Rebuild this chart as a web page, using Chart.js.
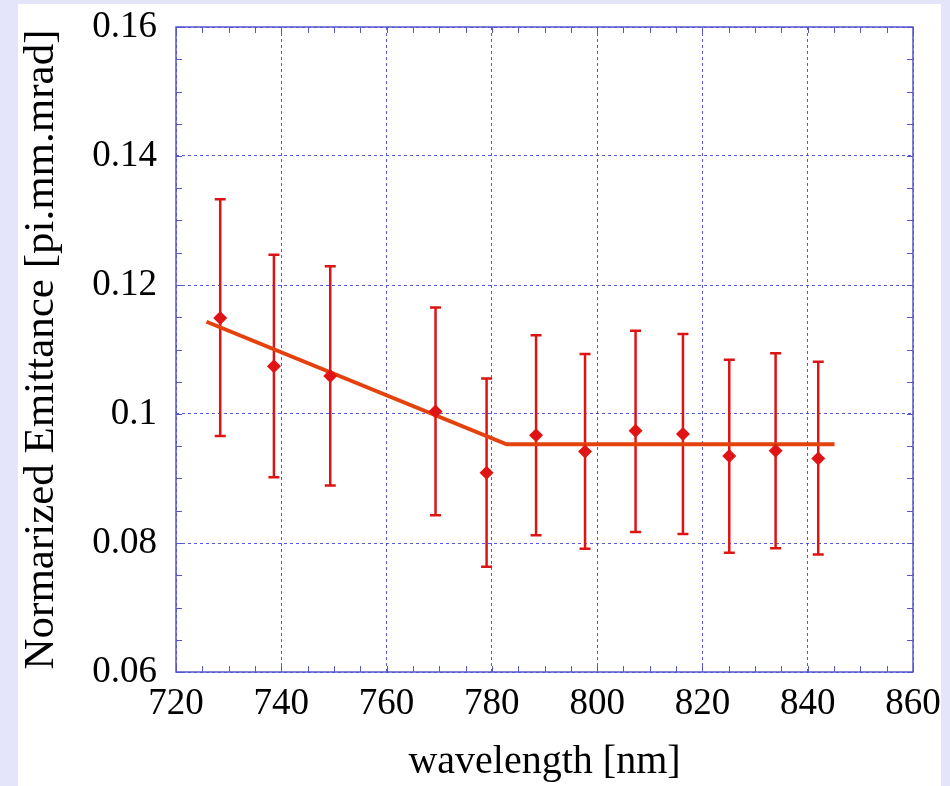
<!DOCTYPE html>
<html>
<head>
<meta charset="utf-8">
<script src="https://cdn.jsdelivr.net/npm/chart.js@4"></script>
<style>
  html, body { margin: 0; padding: 0; background: #e4e4fa; }
  #emittance { display: block; }
</style>
</head>
<body>
<canvas id="emittance" width="950" height="786"></canvas>
<script>
// measured points
var wavelength = [728.4, 738.6, 749.3, 769.3, 779.0, 788.4, 797.7, 807.3, 816.3, 825.1, 833.9, 842.0];
var emittance = [0.1149, 0.1074, 0.1059, 0.1004, 0.0909, 0.0967, 0.0942, 0.0974, 0.0969, 0.0935, 0.0943, 0.0931];
var errHigh = [0.1333, 0.1247, 0.1229, 0.1165, 0.1055, 0.1122, 0.1093, 0.1129, 0.1124, 0.1084, 0.1094, 0.1081];
var errLow = [0.0966, 0.0902, 0.0889, 0.0843, 0.0763, 0.0812, 0.0791, 0.0817, 0.0814, 0.0785, 0.0792, 0.0782];

// fitted line
var fitX = [725.8, 782.8, 845.1];
var fitY = [0.1143, 0.0953, 0.0953];

var xTicks = [720, 740, 760, 780, 800, 820, 840, 860];
var yTicks = [0.06, 0.08, 0.1, 0.12, 0.14, 0.16];

var serif = "'Liberation Serif', 'Times New Roman', serif";
var frameColor = '#5656c8';
var gridColor = 'rgba(70, 70, 225, 0.9)';

var framePlugin = {
  id: 'frame',
  beforeDraw: function (chart) {
    var c = chart.ctx;
    c.save();
    c.fillStyle = '#e4e4fa';
    c.fillRect(0, 0, chart.width, chart.height);
    c.fillStyle = '#ffffff';
    c.fillRect(18, 4, 923, chart.height - 4);
    c.restore();
  },
  beforeDatasetsDraw: function (chart) {
    var c = chart.ctx, xs = chart.scales.x, ys = chart.scales.y;
    c.save();
    c.strokeStyle = '#dd1414';
    c.lineWidth = 2.5;
    for (var i = 0; i < wavelength.length; i++) {
      var px = xs.getPixelForValue(wavelength[i]);
      var top = ys.getPixelForValue(errHigh[i]);
      var bot = ys.getPixelForValue(errLow[i]);
      c.beginPath();
      c.moveTo(px, top); c.lineTo(px, bot);
      c.moveTo(px - 5.5, top); c.lineTo(px + 5.5, top);
      c.moveTo(px - 5.5, bot); c.lineTo(px + 5.5, bot);
      c.stroke();
    }
    c.restore();
  },
  afterDraw: function (chart) {
    var c = chart.ctx, a = chart.chartArea, xs = chart.scales.x, ys = chart.scales.y;
    c.save();
    c.strokeStyle = frameColor;
    c.lineWidth = 1.5;
    c.strokeRect(a.left, a.top, a.right - a.left, a.bottom - a.top);
    c.lineWidth = 1;
    c.beginPath();
    // small inward ticks on all four sides
    for (var w = 720; w <= 860; w += 5) {
      var px = Math.round(xs.getPixelForValue(w)) + 0.5;
      c.moveTo(px, a.bottom); c.lineTo(px, a.bottom - 6);
      c.moveTo(px, a.top); c.lineTo(px, a.top + 6);
    }
    for (var k = 0; k <= 20; k++) {
      var py = Math.round(ys.getPixelForValue(0.06 + k * 0.005)) + 0.5;
      c.moveTo(a.left, py); c.lineTo(a.left + 6, py);
      c.moveTo(a.right, py); c.lineTo(a.right - 6, py);
    }
    c.stroke();
    c.restore();
  }
};

var ctx = document.getElementById('emittance');

var myChart = new Chart(ctx, {
  type: 'scatter',
  data: {
    datasets: [
      {
        label: 'measured',
        data: wavelength.map(function (w, i) { return { x: w, y: emittance[i] }; }),
        pointStyle: 'rectRot',
        pointRadius: 7,
        backgroundColor: '#e01414',
        borderColor: '#e01414',
        borderWidth: 0,
        showLine: false
      },
      {
        label: 'fit',
        data: fitX.map(function (w, i) { return { x: w, y: fitY[i] }; }),
        showLine: true,
        borderColor: '#e4420c',
        borderWidth: 4,
        pointRadius: 0,
        fill: false
      }
    ]
  },
  options: {
    responsive: false,
    animation: false,
    events: [],
    layout: { padding: { left: 0, top: 27, right: 37, bottom: 0 } },
    plugins: {
      legend: { display: false },
      tooltip: { enabled: false }
    },
    scales: {
      x: {
        type: 'linear',
        min: 720,
        max: 860,
        afterFit: function (s) {
          s.height = 114;
          s.paddingLeft = 0; s.paddingRight = 0;
        },
        afterBuildTicks: function (s) { s.ticks = xTicks.map(function (v) { return { value: v }; }); },
        ticks: {
          color: '#000',
          padding: 10,
          maxRotation: 0,
          font: { family: serif, size: 37 },
          callback: function (v) { return String(v); }
        },
        grid: { color: gridColor, lineWidth: 1, drawTicks: false },
        border: { display: false, dash: [3, 3] },
        title: {
          display: true,
          text: 'wavelength [nm]',
          color: '#000',
          font: { family: serif, size: 40, lineHeight: 1.2 },
          padding: { top: 0, bottom: 0 }
        }
      },
      y: {
        type: 'linear',
        min: 0.06,
        max: 0.16,
        afterFit: function (s) {
          s.width = 176;
          s.paddingTop = 0; s.paddingBottom = 0;
        },
        afterBuildTicks: function (s) { s.ticks = yTicks.map(function (v) { return { value: v }; }); },
        ticks: {
          color: '#000',
          padding: 19,
          font: { family: serif, size: 37 },
          callback: function (v) { return String(Number(v.toFixed(2))); }
        },
        grid: { color: gridColor, lineWidth: 1, drawTicks: false },
        border: { display: false, dash: [3, 3] },
        title: {
          display: true,
          text: 'Normarized Emittance [pi.mm.mrad]',
          color: '#000',
          font: { family: serif, size: 43, lineHeight: 1.2 },
          padding: { top: 16, bottom: 0 }
        }
      }
    }
  },
  plugins: [framePlugin]
});
</script>
</body>
</html>
